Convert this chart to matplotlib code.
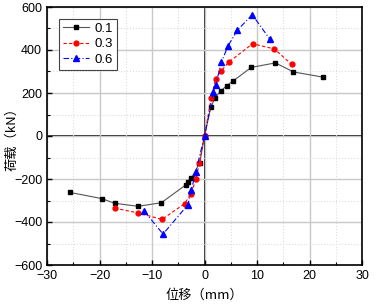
import matplotlib
matplotlib.use("Agg")
import matplotlib.pyplot as plt
from matplotlib.ticker import MultipleLocator

plt.rcParams['font.family'] = ['Liberation Sans', 'Noto Sans CJK SC', 'DejaVu Sans']

# Series 0.1
x1 = [-25.7, -19.6, -17.1, -12.6, -8.2, -3.6, -3.2, -2.5, -0.9, 0.0, 1.2, 2.0, 3.1, 4.2, 5.5, 8.9, 13.5, 16.95, 22.5]
y1 = [-262, -291, -313, -327, -310, -228, -212, -195, -125, 0, 133, 178, 209, 234, 257, 319, 340, 298, 274]
# Series 0.3
x3 = [-17.1, -12.6, -8.1, -3.8, -2.6, -1.6, -1.0, 0.0, 1.3, 2.1, 3.1, 4.6, 9.15, 13.3, 16.6]
y3 = [-336, -358, -388, -315, -270, -201, -127, 0, 178, 264, 301, 343, 429, 405, 333]
# Series 0.6
x6 = [-11.5, -7.9, -3.2, -2.5, -1.65, 0.0, 1.7, 2.15, 3.2, 4.5, 6.25, 9.1, 12.45]
y6 = [-349, -456, -321, -251, -166, 0, 203, 237, 343, 420, 492, 564, 450]

labels = ["0.1", "0.3", "0.6"]
xlabel = "位移（mm）"
ylabel = "荷载（kN）"

fig = plt.figure(figsize=(3.78, 3.05), dpi=100)
ax = fig.add_axes([47/378, 1-265/305, 315/378, 258/305])

ax.set_xlim(-30, 30)
ax.set_ylim(-600, 600)
ax.xaxis.set_major_locator(MultipleLocator(10))
ax.xaxis.set_minor_locator(MultipleLocator(5))
ax.yaxis.set_major_locator(MultipleLocator(200))
ax.yaxis.set_minor_locator(MultipleLocator(100))
ax.grid(True, which='major', color='#c8c8c8', lw=1.0, zorder=0)
ax.grid(True, which='minor', color='#dddddd', lw=0.8, ls=':', zorder=0)
ax.axhline(0, color='black', lw=1.2, zorder=1)
ax.axvline(0, color='black', lw=1.2, zorder=1)

ax.plot(x1, y1, color='#555555', lw=0.8, marker='s', ms=3.2, mfc='black', mec='black', label=labels[0], zorder=3)
ax.plot(x3, y3, color='red', lw=0.8, ls=(0, (3, 2)), marker='o', ms=3.5, mfc='red', mec='red', label=labels[1], zorder=4)
ax.plot(x6, y6, color='blue', lw=0.8, ls=(0, (5, 2, 1, 2)), marker='^', ms=3.8, mfc='blue', mec='blue', label=labels[2], zorder=5)

ax.tick_params(which='both', direction='in', labelsize=9)
ax.tick_params(which='major', length=3.5, width=1)
ax.tick_params(which='minor', length=2, width=0.8)
for s in ax.spines.values():
    s.set_linewidth(1.2)

leg = ax.legend(loc='upper left', bbox_to_anchor=(0.03, 0.965), fontsize=9.5,
                frameon=True, fancybox=False, edgecolor='#444444', framealpha=1,
                handlelength=2.0, borderpad=0.3, labelspacing=0.25, handletextpad=0.4,
                borderaxespad=0.2)
leg.get_frame().set_linewidth(0.8)

ax.set_xlabel(xlabel, fontsize=9.5, family=['Noto Sans CJK SC'], labelpad=5)
ax.set_ylabel(ylabel, fontsize=9.5, family=['Noto Sans CJK SC'])
ax.yaxis.set_label_coords(-0.092, 0.5)

fig.savefig("out.png", dpi=100)
